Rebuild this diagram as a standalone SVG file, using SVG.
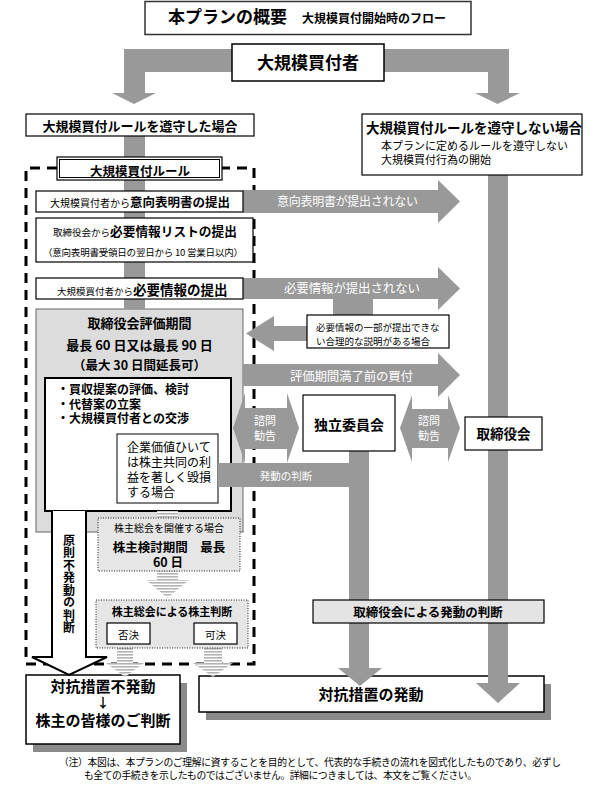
<svg xmlns="http://www.w3.org/2000/svg" width="599" height="797" viewBox="0 0 599 797">
<defs>
<style>
text{font-family:"Noto Sans CJK JP","Noto Sans",sans-serif;fill:#000}
.b{font-weight:700}
.box{fill:#fff;stroke:#000;stroke-width:1.2}
.bar{fill:#999}
.wt{fill:#fff}
.dot{fill:#e6e6e6;stroke:#222;stroke-width:1;stroke-dasharray:1 1.5}
.str{fill:url(#stripes)}
.mid{text-anchor:middle}
</style>
<pattern id="stripes" width="4" height="3" patternUnits="userSpaceOnUse">
<rect width="4" height="3" fill="#fff"/><rect width="4" height="1.6" fill="#b4b4b4"/>
</pattern>
</defs>
<rect width="599" height="797" fill="#fff"/>

<!-- back nodes -->
<g id="eval-period">
<rect x="36" y="309" width="207" height="223" fill="#dcdcdc" stroke="#666" stroke-width="1"/>
<text class="b mid" x="139.5" y="328" font-size="13">取締役会評価期間</text>
<text class="b mid" x="139.5" y="350" font-size="13">最長 60 日又は最長 90 日</text>
<text class="b mid" x="139.5" y="370" font-size="12.5">（最大 30 日間延長可）</text>
</g>
<g id="eval-tasks">
<rect x="45" y="378" width="186" height="133" fill="#fff" stroke="#000" stroke-width="2"/>
<text class="b" x="57" y="394" font-size="12">・買収提案の評価、検討</text>
<text class="b" x="57" y="408.5" font-size="12">・代替案の立案</text>
<text class="b" x="57" y="423" font-size="12">・大規模買付者との交渉</text>
</g>
<g id="damage-case">
<rect x="117" y="434" width="101" height="69" fill="#fff" stroke="#000" stroke-width="1"/>
<text x="127" y="452" font-size="12">企業価値ひいて</text>
<text x="127" y="467" font-size="12">は株主共同の利</text>
<text x="127" y="482" font-size="12">益を著しく毀損</text>
<text x="127" y="497" font-size="12">する場合</text>
</g>
<g id="rule-frame">
<path d="M57,168 H26 V664 H254 V168 H222" fill="none" stroke="#000" stroke-width="3" stroke-dasharray="10 7"/>
</g>
<g id="no-countermeasure">
<rect x="33" y="683" width="154" height="69" fill="#8a8a8a"/>
<rect x="26" y="675" width="154" height="69" fill="#fff" stroke="#000" stroke-width="1.5"/>
<text class="b mid" x="103" y="692" font-size="15">対抗措置不発動</text>
<text class="b mid" x="103" y="707" font-size="13">↓</text>
<text class="b mid" x="103" y="726" font-size="15">株主の皆様のご判断</text>
</g>
<g id="countermeasure">
<rect x="206" y="684" width="345" height="36" fill="#8a8a8a"/>
<rect x="199" y="676" width="345" height="36" fill="#fff" stroke="#000" stroke-width="1.5"/>
<text class="b mid" x="371" y="700" font-size="15">対抗措置の発動</text>
</g>

<!-- connectors -->
<g id="connectors">
<path class="bar" d="M124,93 H112 L134,104 L156,93 H145 V72 H488 V93 H475 L497.5,104 L520,93 H509 V49 H124 Z"/>
<rect class="bar" x="124" y="136" width="21" height="173"/>
<path class="bar" d="M488,175 H508 V683 H520 L498,703 L476,683 H488 Z"/>
<path class="bar" d="M349,451 H369 V668 H382 L360,686 L338,668 H349 Z"/>
<rect class="bar" x="218" y="463" width="151" height="24"/>
<text class="wt mid" x="286" y="480" font-size="10.5">発動の判断</text>
<path class="bar" d="M243,190 H438 V180 L460,201.5 L438,223 V213 H243 Z"/>
<text class="wt" x="277" y="206" font-size="12" textLength="141">意向表明書が提出されない</text>
<path class="bar" d="M243,278 H438 V267 L460,288.5 L438,310 V299 H243 Z"/>
<text class="wt" x="284" y="293" font-size="12.5" textLength="136">必要情報が提出されない</text>
<rect class="bar" x="333" y="299" width="40" height="16"/>
<path class="bar" d="M307,326 H274 V316 L246,333.5 L274,351 V341 H307 Z"/>
<path class="bar" d="M243,364 H438 V353 L460,375 L438,397 V386 H243 Z"/>
<text class="wt" x="290" y="381" font-size="12.5" textLength="123">評価期間満了前の買付</text>
<path class="bar" d="M233,428 L245,393 V408 H287 V393 L299,428 L287,463 V449 H245 V463 Z"/>
<text class="wt mid" x="265" y="425" font-size="11">諮問</text>
<text class="wt mid" x="265" y="440" font-size="11">勧告</text>
<path class="bar" d="M400,428 L412,395 V409 H448 V395 L460,428 L448,462 V448 H412 V462 Z"/>
<text class="wt mid" x="429" y="425" font-size="11">諮問</text>
<text class="wt mid" x="429" y="440" font-size="11">勧告</text>
<rect class="str" x="157" y="511" width="21" height="7"/>
<path class="str" d="M157,571 H178 V580 H189 L167.5,598 L146,580 H157 Z"/>
<path class="str" d="M117,644 H133 V663 H144 L125,677 L106,663 H117 Z"/>
<path class="str" d="M204,644 H222 V663 H233 L213,677 L193,663 H204 Z"/>
<path d="M52,511 V657 H32 L69,675 L107,657 H86 V511" fill="#fff" stroke="#000" stroke-width="2"/>
<text class="b" x="69" y="534" font-size="12" writing-mode="vertical-rl" letter-spacing="0.5">原則不発動の判断</text>
</g>

<!-- front nodes -->
<g id="title">
<rect x="145" y="1.5" width="326" height="33" fill="#fff" stroke="#333" stroke-width="1.5"/>
<text class="b" x="168" y="23" font-size="17">本プランの概要</text>
<text class="b" x="302" y="23" font-size="12">大規模買付開始時のフロー</text>
</g>
<g id="acquirer">
<rect x="232" y="44" width="152" height="37" fill="#fff" stroke="#000" stroke-width="1.5"/>
<text class="b mid" x="308" y="69" font-size="17">大規模買付者</text>
</g>
<g id="comply">
<rect class="box" x="26" y="114" width="228" height="22"/>
<text class="b mid" x="140" y="131" font-size="13">大規模買付ルールを遵守した場合</text>
</g>
<g id="not-comply">
<rect class="box" x="362" y="114" width="220" height="61"/>
<text class="b mid" x="474" y="133" font-size="13.5">大規模買付ルールを遵守しない場合</text>
<text x="381" y="150" font-size="11">本プランに定めるルールを遵守しない</text>
<text x="381" y="164" font-size="11">大規模買付行為の開始</text>
</g>
<g id="rule-label">
<rect x="57" y="157" width="165" height="23" fill="#fff" stroke="#000" stroke-width="1.2"/>
<rect x="59.5" y="159.5" width="160" height="18" fill="none" stroke="#000" stroke-width="1"/>
<text class="b mid" x="140" y="176" font-size="12.5">大規模買付ルール</text>
</g>
<g id="intent-letter">
<rect class="box" x="36" y="191" width="207" height="21"/>
<text x="50" y="207"><tspan font-size="10">大規模買付者から</tspan><tspan class="b" font-size="12.5">意向表明書の提出</tspan></text>
</g>
<g id="info-list">
<rect class="box" x="36" y="218" width="217" height="44"/>
<text x="53" y="236"><tspan font-size="9.5">取締役会から</tspan><tspan class="b" font-size="12.7">必要情報リストの提出</tspan></text>
<text x="43" y="256" font-size="9.5" textLength="200">（意向表明書受領日の翌日から 10 営業日以内）</text>
</g>
<g id="info-submit">
<rect class="box" x="36" y="278" width="207" height="21"/>
<text x="57" y="295"><tspan font-size="9.5">大規模買付者から</tspan><tspan class="b" font-size="13.5">必要情報の提出</tspan></text>
</g>
<g id="partial-info">
<rect class="box" x="307" y="315" width="142" height="33" stroke-width="1"/>
<text x="316" y="331" font-size="9.5">必要情報の一部が提出できな</text>
<text x="316" y="345" font-size="9.5">い合理的な説明がある場合</text>
</g>
<g id="committee">
<rect class="box" x="303" y="395" width="92" height="56"/>
<text class="b mid" x="349" y="430" font-size="14">独立委員会</text>
</g>
<g id="board">
<rect class="box" x="465" y="417" width="77" height="33"/>
<text class="b mid" x="503.5" y="439" font-size="13.5">取締役会</text>
</g>
<g id="board-decision">
<rect x="313" y="600" width="231" height="23" fill="#e4e4e4" stroke="#000" stroke-width="1.2"/>
<text class="b mid" x="428" y="617" font-size="12.5">取締役会による発動の判断</text>
</g>
<g id="shareholder-meeting">
<rect class="dot" x="98" y="518" width="142" height="53"/>
<text class="mid" x="169" y="532" font-size="10">株主総会を開催する場合</text>
<text class="b mid" x="169" y="552" font-size="12.5">株主検討期間　最長</text>
<text class="b mid" x="168" y="567" font-size="12.5">60 日</text>
</g>
<g id="shareholder-vote">
<rect class="dot" x="96" y="600" width="152" height="48"/>
<text class="b mid" x="172" y="616" font-size="11">株主総会による株主判断</text>
</g>
<g id="reject">
<rect class="box" x="107" y="623" width="43" height="21" stroke-width="1"/>
<text class="mid" x="128.5" y="639" font-size="10.5">否決</text>
</g>
<g id="approve">
<rect class="box" x="194" y="623" width="43" height="21" stroke-width="1"/>
<text class="mid" x="215.5" y="639" font-size="10.5">可決</text>
</g>
<g id="note">
<text x="59" y="766" font-size="9.8" fill="#333" textLength="502">（注）本図は、本プランのご理解に資することを目的として、代表的な手続きの流れを図式化したものであり、必ずし</text>
<text x="84" y="779" font-size="9.8" fill="#333" textLength="393">も全ての手続きを示したものではございません。詳細につきましては、本文をご覧ください。</text>
</g>
</svg>
